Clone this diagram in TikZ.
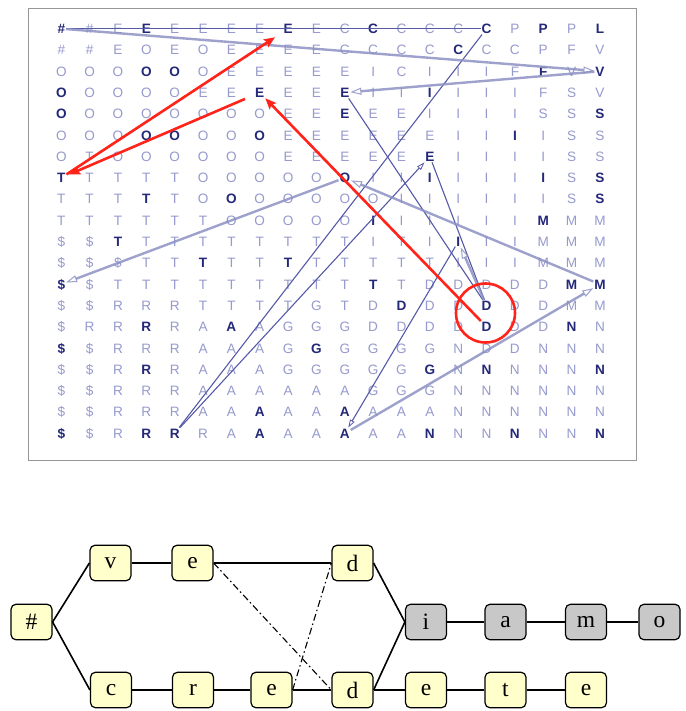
\documentclass[tikz,border=0pt]{standalone}
\usepackage{fontspec}
\setmainfont{Liberation Serif}
\newfontfamily\gridfont{Liberation Sans}
\usetikzlibrary{arrows.meta,calc}

\definecolor{ltr}{RGB}{150,154,205}
\definecolor{dkr}{RGB}{35,40,120}
\definecolor{walkc}{RGB}{140,145,195}
\definecolor{tracec}{RGB}{85,90,168}
\definecolor{hlred}{RGB}{255,35,25}
\definecolor{cellfill}{RGB}{255,255,204}
\definecolor{cellgray}{RGB}{200,200,200}
\definecolor{framec}{RGB}{150,150,150}

% light and dark grid letters
\newcommand\Lt[1]{\textcolor{ltr}{#1}}
\newcommand\Dk[1]{\textcolor{dkr}{\bfseries #1}}

% one row of the cluster grid: node g-<row>-<column>
\newcommand\gridrow[2]{%
  \foreach \gch [count=\gc] in {#2} {
    \node[glyph] (g-#1-\gc) at ({61.3+(\gc-1)*28.35},{28.7+(#1-1)*21.3}) {\gch};
  }}

\tikzset{
  glyph/.style={font=\gridfont\fontsize{13.6}{13.6}\selectfont, inner sep=0.8pt,
    text height=9.7pt, text depth=0pt, anchor=center},
  walk/.style={draw=walkc, draw opacity=0.85, line width=2.4pt,
    -{Triangle[open,length=11pt,width=7pt,line width=1pt]}},
  trace/.style={draw=tracec, line width=1.1pt},
  tracetip/.style={-{Triangle[open,length=8pt,width=5pt,line width=0.8pt]}},
  hlarrow/.style={draw=hlred, line width=2.6pt,
    -{Stealth[length=11pt,width=9pt,inset=2pt]}},
  ring/.style={circle, draw=hlred, line width=2.6pt, minimum size=59pt, inner sep=0pt},
  cell/.style={draw=black, line width=1.2pt, rounded corners=5pt, fill=cellfill,
    minimum width=41pt, minimum height=35.5pt, inner sep=0pt,
    font=\fontsize{23.5}{23.5}\selectfont},
  cellg/.style={cell, fill=cellgray},
  wordedge/.style={draw=black, line width=1.6pt},
  crossedge/.style={draw=black, line width=1.1pt,
    dash pattern=on 7pt off 3pt on 1.5pt off 3pt}
}

\begin{document}
\begin{tikzpicture}[x=1pt,y=-1pt]
\useasboundingbox (0,0) rectangle (685,711);
\fill[white] (0,0) rectangle (685,711);

% frame of the grid
\draw[framec, line width=1.6pt] (28.5,8.5) rectangle (636.5,460.5);

% cluster grid
\gridrow{1}{\Dk{\#},\Lt{\#},\Lt{E},\Dk{E},\Lt{E},\Lt{E},\Lt{E},\Lt{E},\Dk{E},\Lt{E},\Lt{C},\Dk{C},\Lt{C},\Lt{C},\Lt{C},\Dk{C},\Lt{P},\Dk{P},\Lt{P},\Dk{L}}
\gridrow{2}{\Lt{\#},\Lt{\#},\Lt{E},\Lt{O},\Lt{E},\Lt{O},\Lt{E},\Lt{E},\Lt{E},\Lt{E},\Lt{C},\Lt{C},\Lt{C},\Lt{C},\Dk{C},\Lt{C},\Lt{C},\Lt{P},\Lt{F},\Lt{V}}
\gridrow{3}{\Lt{O},\Lt{O},\Lt{O},\Dk{O},\Dk{O},\Lt{O},\Lt{E},\Lt{E},\Lt{E},\Lt{E},\Lt{E},\Lt{I},\Lt{C},\Lt{I},\Lt{I},\Lt{I},\Lt{F},\Dk{F},\Lt{V},\Dk{V}}
\gridrow{4}{\Dk{O},\Lt{O},\Lt{O},\Lt{O},\Lt{O},\Lt{E},\Lt{E},\Dk{E},\Lt{E},\Lt{E},\Dk{E},\Lt{I},\Lt{I},\Dk{I},\Lt{I},\Lt{I},\Lt{I},\Lt{F},\Lt{S},\Lt{V}}
\gridrow{5}{\Dk{O},\Lt{O},\Lt{O},\Lt{O},\Lt{O},\Lt{O},\Lt{O},\Lt{O},\Lt{E},\Lt{E},\Dk{E},\Lt{E},\Lt{E},\Lt{I},\Lt{I},\Lt{I},\Lt{I},\Lt{S},\Lt{S},\Dk{S}}
\gridrow{6}{\Lt{O},\Lt{O},\Lt{O},\Dk{O},\Dk{O},\Lt{O},\Lt{O},\Dk{O},\Lt{E},\Lt{E},\Lt{E},\Lt{E},\Lt{E},\Lt{E},\Lt{I},\Lt{I},\Dk{I},\Lt{I},\Lt{S},\Lt{S}}
\gridrow{7}{\Lt{O},\Lt{T},\Lt{O},\Lt{O},\Lt{O},\Lt{O},\Lt{O},\Lt{O},\Lt{E},\Lt{E},\Lt{E},\Lt{E},\Lt{E},\Dk{E},\Lt{I},\Lt{I},\Lt{I},\Lt{I},\Lt{S},\Lt{S}}
\gridrow{8}{\Dk{T},\Lt{T},\Lt{T},\Lt{T},\Lt{T},\Lt{O},\Lt{O},\Lt{O},\Lt{O},\Lt{O},\Dk{O},\Lt{I},\Lt{I},\Dk{I},\Lt{I},\Lt{I},\Lt{I},\Dk{I},\Lt{S},\Dk{S}}
\gridrow{9}{\Lt{T},\Lt{T},\Lt{T},\Dk{T},\Lt{T},\Lt{O},\Dk{O},\Lt{O},\Lt{O},\Lt{O},\Lt{O},\Lt{O},\Lt{I},\Lt{I},\Lt{I},\Lt{I},\Lt{I},\Lt{I},\Lt{S},\Dk{S}}
\gridrow{10}{\Lt{T},\Lt{T},\Lt{T},\Lt{T},\Lt{T},\Lt{T},\Lt{O},\Lt{O},\Lt{O},\Lt{O},\Lt{O},\Dk{I},\Lt{I},\Lt{I},\Lt{I},\Lt{I},\Lt{I},\Dk{M},\Lt{M},\Lt{M}}
\gridrow{11}{\Lt{\$},\Lt{\$},\Dk{T},\Lt{T},\Lt{T},\Lt{T},\Lt{T},\Lt{T},\Lt{T},\Lt{T},\Lt{T},\Lt{I},\Lt{T},\Lt{I},\Dk{I},\Lt{I},\Lt{I},\Lt{M},\Lt{M},\Lt{M}}
\gridrow{12}{\Lt{\$},\Lt{\$},\Lt{\$},\Lt{T},\Lt{T},\Dk{T},\Lt{T},\Lt{T},\Dk{T},\Lt{T},\Lt{T},\Lt{T},\Lt{T},\Lt{T},\Lt{I},\Lt{I},\Lt{I},\Lt{M},\Lt{M},\Lt{M}}
\gridrow{13}{\Dk{\$},\Lt{\$},\Lt{T},\Lt{T},\Lt{T},\Lt{T},\Lt{T},\Lt{T},\Lt{T},\Lt{T},\Lt{T},\Dk{T},\Lt{T},\Lt{D},\Lt{D},\Lt{D},\Lt{D},\Lt{D},\Dk{M},\Dk{M}}
\gridrow{14}{\Lt{\$},\Lt{\$},\Lt{R},\Lt{R},\Lt{R},\Lt{T},\Lt{T},\Lt{T},\Lt{T},\Lt{G},\Lt{T},\Lt{D},\Dk{D},\Lt{D},\Lt{D},\Dk{D},\Lt{D},\Lt{D},\Lt{M},\Lt{M}}
\gridrow{15}{\Lt{\$},\Lt{R},\Lt{R},\Dk{R},\Lt{R},\Lt{A},\Dk{A},\Lt{A},\Lt{G},\Lt{G},\Lt{G},\Lt{D},\Lt{D},\Lt{D},\Lt{D},\Dk{D},\Lt{D},\Lt{D},\Dk{N},\Lt{N}}
\gridrow{16}{\Dk{\$},\Lt{\$},\Lt{R},\Lt{R},\Lt{R},\Lt{A},\Lt{A},\Lt{A},\Lt{G},\Dk{G},\Lt{G},\Lt{G},\Lt{G},\Lt{G},\Lt{N},\Lt{D},\Lt{D},\Lt{N},\Lt{N},\Lt{N}}
\gridrow{17}{\Lt{\$},\Lt{\$},\Lt{R},\Dk{R},\Lt{R},\Lt{A},\Lt{A},\Lt{A},\Lt{G},\Lt{G},\Lt{G},\Lt{G},\Lt{G},\Dk{G},\Lt{N},\Dk{N},\Lt{N},\Lt{N},\Lt{N},\Dk{N}}
\gridrow{18}{\Lt{\$},\Lt{\$},\Lt{R},\Lt{R},\Lt{R},\Lt{A},\Lt{A},\Lt{A},\Lt{A},\Lt{A},\Lt{A},\Lt{G},\Lt{G},\Lt{G},\Lt{N},\Lt{N},\Lt{N},\Lt{N},\Lt{N},\Lt{N}}
\gridrow{19}{\Lt{\$},\Lt{\$},\Lt{R},\Lt{R},\Lt{R},\Lt{A},\Lt{A},\Dk{A},\Lt{A},\Lt{A},\Dk{A},\Lt{A},\Lt{A},\Lt{A},\Lt{N},\Lt{N},\Lt{N},\Lt{N},\Lt{N},\Lt{N}}
\gridrow{20}{\Dk{\$},\Lt{\$},\Lt{R},\Dk{R},\Dk{R},\Lt{R},\Lt{A},\Dk{A},\Lt{A},\Lt{A},\Dk{A},\Lt{A},\Lt{A},\Dk{N},\Lt{N},\Lt{N},\Dk{N},\Lt{N},\Lt{N},\Dk{N}}

% thin traces
\draw[trace] (g-1-1) -- (g-1-16);
\draw[trace] (g-1-16) -- (g-20-5);
\draw[trace, tracetip] (g-20-5) -- (g-7-14);
\draw[trace] (g-4-11) -- (g-14-16);
\draw[trace] (g-7-14) -- (g-14-16);
\draw[trace, tracetip] (g-11-15) -- (g-20-11);

% thick path segments
\draw[walk] (g-1-1) -- (g-3-20);
\draw[walk] (g-3-20) -- (g-4-11);
\draw[walk] (g-8-11) -- (g-13-1);
\draw[walk] (g-13-20) -- (g-8-11);
\draw[walk] (g-20-11) -- (g-13-20);
\draw[walk] (g-14-16) -- (g-11-15);

% highlighted jumps
\draw[hlarrow, shorten >=9pt] (g-8-1) -- (g-1-9);
\draw[hlarrow, shorten <=10pt, shorten >=3pt] (g-4-8) -- (g-8-1);
\draw[hlarrow] (g-15-16) -- (g-4-8);
\node[ring] (focus) at (485.5,313) {};

% word lattice
\node[cell] (h) at (31.5,622) {\#};
\node[cell] (v) at (110.5,563) {v};
\node[cell] (e1) at (192.5,563) {e};
\node[cell] (d1) at (352.5,563) {d};
\node[cellg] (i) at (426,622) {i};
\node[cellg] (a) at (505.5,622) {a};
\node[cellg] (m) at (586,622) {m};
\node[cellg] (o) at (659.5,622) {o};
\node[cell] (c) at (111,690) {c};
\node[cell] (r) at (193,690) {r};
\node[cell] (e2) at (271.5,690) {e};
\node[cell] (d2) at (352.5,690) {d};
\node[cell] (e3) at (426,690) {e};
\node[cell] (t) at (505.5,690) {t};
\node[cell] (e4) at (586,690) {e};

\draw[wordedge] (h.east) -- (v.west);
\draw[wordedge] (h.east) -- (c.west);
\draw[wordedge] (v) -- (e1);
\draw[wordedge] (e1) -- (d1);
\draw[wordedge] (d1.east) -- (i.west);
\draw[wordedge] (d2.east) -- (i.west);
\draw[wordedge] (i) -- (a);
\draw[wordedge] (a) -- (m);
\draw[wordedge] (m) -- (o);
\draw[wordedge] (c) -- (r);
\draw[wordedge] (r) -- (e2);
\draw[wordedge] (e2) -- (d2);
\draw[wordedge] (d2) -- (e3);
\draw[wordedge] (e3) -- (t);
\draw[wordedge] (t) -- (e4);
\draw[crossedge] (e1.east) -- (d2.west);
\draw[crossedge] (e2.east) -- (d1.west);
\end{tikzpicture}
\end{document}
